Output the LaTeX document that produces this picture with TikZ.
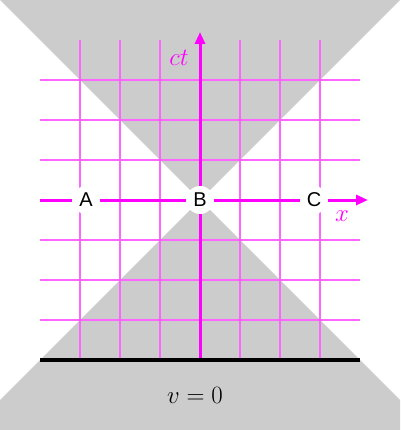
\documentclass[tikz,border=0pt]{standalone}
\usepackage{fontspec}
\newfontfamily\lab{Liberation Sans}
\usetikzlibrary{arrows.meta}
\definecolor{cone}{HTML}{CCCCCC}
\definecolor{gridm}{HTML}{FF66FF}
\definecolor{axm}{HTML}{FF00FF}
\begin{document}
\begin{tikzpicture}[x=1pt,y=-1pt,
  gridline/.style={gridm,line width=1.5pt},
  axis/.style={axm,line width=3pt,-{Triangle[length=12pt,width=10pt]}},
  event/.style={circle,fill=white,inner sep=0pt,minimum size=28pt,font=\lab\fontsize{20}{22}\selectfont},
  mlabel/.style={inner sep=0pt,font=\fontsize{24}{26}\selectfont}]
\useasboundingbox (0,0) rectangle (400,430);
\fill[cone] (0,0) -- (400,0) -- (200,200) -- cycle;
\fill[cone] (200,200) -- (0,400) -- (0,430) -- (400,430) -- (400,400) -- cycle;
\foreach \v in {80,120,160,240,280,320} {
  \draw[gridline] (\v,40) -- (\v,360);
  \draw[gridline] (40,\v) -- (360,\v);
}
\coordinate (xs) at (40,200);
\coordinate (xe) at (368,200);
\coordinate (ts) at (200,360);
\coordinate (te) at (200,32);
\draw[axis] (xs) -- (xe);
\draw[axis] (ts) -- (te);
\coordinate (gl) at (40,360);
\coordinate (gr) at (360,360);
\draw[line width=4pt] (gl) -- (gr);
\node[event] (A) at (86,200) {A};
\node[event] (B) at (200,200) {B};
\node[event] (C) at (314,200) {C};
\node[mlabel,text=axm] (ctl) at (179,58) {$ct$};
\node[mlabel,text=axm] (xl) at (342,216) {$x$};
\node[mlabel] (vl) at (195,395) {$v=0$};
\end{tikzpicture}
\end{document}
